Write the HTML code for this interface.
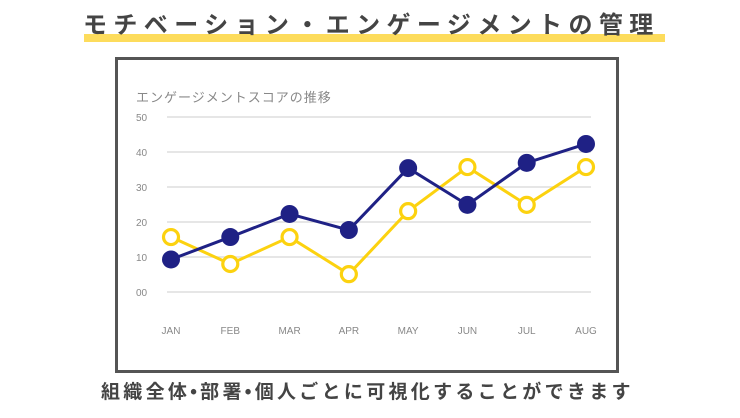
<!DOCTYPE html>
<html><head><meta charset="utf-8">
<style>
body{margin:0;width:740px;height:418px;background:#fff;overflow:hidden;position:relative;font-family:"Liberation Sans","Noto Sans CJK JP",sans-serif}
#title{position:absolute;left:83px;top:8px;width:582px;height:36px;}
#title .bar{position:absolute;left:1px;right:0;top:26px;height:8px;background:#fddc5c}
#title .t{position:absolute;left:0;top:3px;font-size:24px;font-weight:bold;color:#444;letter-spacing:6.4px;white-space:nowrap;line-height:30px}
#frame{position:absolute;left:115px;top:57px;width:498px;height:310px;border:3px solid #555}
#sub{position:absolute;left:101px;top:380px;font-size:19px;font-weight:bold;color:#444;letter-spacing:3.3px;white-space:nowrap;line-height:26px}
svg{position:absolute;left:0;top:0}
</style></head><body>
<div id="title"><div class="bar"></div><div class="t">モチベーション・エンゲージメントの管理</div></div>
<div id="frame"></div>
<svg id="chart" width="740" height="418">
<text x="136" y="102" font-size="13" fill="#888" letter-spacing="1" font-family="Liberation Sans, Noto Sans CJK JP, sans-serif">エンゲージメントスコアの推移</text>
</svg>
<div id="sub">組織全体•部署•個人ごとに可視化することができます</div>
<script>
const months=["JAN","FEB","MAR","APR","MAY","JUN","JUL","AUG"];
const seriesA=[9.3,15.7,22.3,17.7,35.4,24.9,36.9,42.3];
const seriesB=[15.7,8,15.7,5.1,23.1,35.7,24.9,35.7];
const yTicks=[0,10,20,30,40,50];
const yLabels=["00","10","20","30","40","50"];
const svg=document.getElementById('chart');
const NS="http://www.w3.org/2000/svg";
const x=i=>171+i*(586-171)/(months.length-1);
const y=v=>292-v*3.5;
function mk(t,a){const e=document.createElementNS(NS,t);for(const k in a)e.setAttribute(k,a[k]);svg.appendChild(e);return e;}
yTicks.forEach((v,i)=>{
 const l=mk('line',{x1:167,x2:591,y1:y(v),y2:y(v),stroke:'#ddd','stroke-width':1.5});
 
 
 const t=mk('text',{x:136,y:y(v)+4,'font-size':10,fill:'#888'});
 t.textContent=yLabels[i];
 
 
});
months.forEach((m,i)=>{
 const t=mk('text',{x:x(i),y:334,'font-size':10,fill:'#888','text-anchor':'middle'});
 t.textContent=m;
 
 
});
function series(d,col,filled,name){
 const p=mk('polyline',{points:d.map((v,i)=>x(i)+','+y(v)).join(' '),fill:'none',stroke:col,'stroke-width':3});
 
 
 d.forEach((v,i)=>{
  const c=mk('circle',{cx:x(i),cy:y(v),r:filled?9:7.5,fill:filled?col:'#fff',stroke:col,'stroke-width':filled?0:3.2});
  
  
 });
}
series(seriesB,'#fcd20f',false,'series-yellow');
series(seriesA,'#1f2185',true,'series-navy');
</script>
</body></html>
